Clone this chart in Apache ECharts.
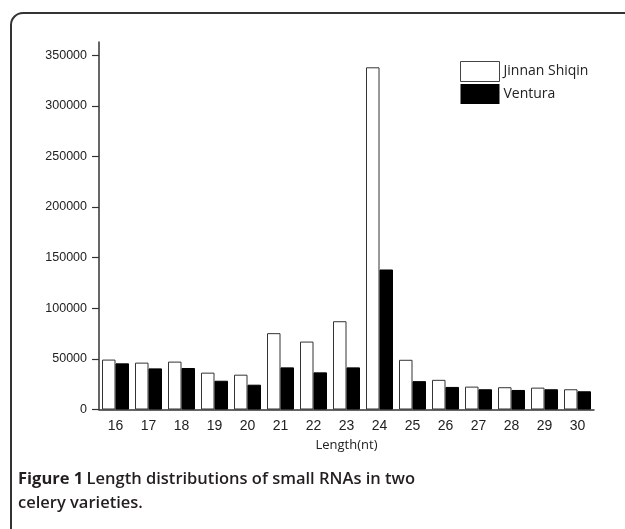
<!DOCTYPE html>
<html>
<head>
<meta charset="utf-8">
<script src="https://cdn.jsdelivr.net/npm/echarts@6/dist/echarts.min.js"></script>
<style>
html,body{margin:0;padding:0;background:#fff;}
#chart{width:625px;height:529px;}
</style>
</head>
<body>
<div id="chart"></div>
<script>
const lengths = ['16','17','18','19','20','21','22','23','24','25','26','27','28','29','30'];
const jinnanShiqin = [49300, 46300, 47300, 36400, 34400, 75400, 67100, 87200, 338000, 49100, 29300, 22600, 22000, 21600, 20000];
const ventura = [45600, 40600, 41000, 28400, 24500, 41600, 36700, 41600, 138300, 28000, 22300, 20000, 19300, 20000, 18000];
const yTicks = [0, 50000, 100000, 150000, 200000, 250000, 300000, 350000];
const seriesNames = ['Jinnan Shiqin', 'Ventura'];

const chart = echarts.init(document.getElementById('chart'), null, {renderer: 'canvas'});
const axisColor = '#333';
chart.setOption({
  animation: false,
  backgroundColor: '#fff',
  grid: {left: 99, right: 31, top: 42, bottom: 119.5, containLabel: false},
  legend: {
    orient: 'vertical', left: 455, top: 56,
    itemWidth: 39, itemHeight: 20, itemGap: 2,
    icon: 'rect',
    textStyle: {fontFamily: 'Open Sans', fontSize: 14, color: '#222', padding: [0,0,0,-1]},
    data: [
      {name: seriesNames[0], itemStyle: {color: '#fff', borderColor: '#444', borderWidth: 1}},
      {name: seriesNames[1], itemStyle: {color: '#000', borderColor: '#000', borderWidth: 0}}
    ]
  },
  xAxis: {
    type: 'category', data: lengths,
    name: 'Length(nt)', nameLocation: 'middle', nameGap: 29,
    nameTextStyle: {fontFamily: 'Open Sans', fontSize: 13, color: '#222'},
    axisLine: {lineStyle: {color: axisColor, width: 1.5}},
    axisTick: {alignWithLabel: true, length: 6, lineStyle: {color: axisColor, width: 1.2}},
    axisLabel: {fontFamily: 'Liberation Sans', fontSize: 14, color: '#222', margin: 10}
  },
  yAxis: {
    type: 'value', min: 0, max: 363000,
    axisLine: {show: true, lineStyle: {color: axisColor, width: 1.5}},
    axisTick: {show: true, length: 7, customValues: yTicks, lineStyle: {color: axisColor, width: 1.2}},
    axisLabel: {customValues: yTicks, formatter: function (v) { return String(v); },
      fontFamily: 'Liberation Sans', fontSize: 12.5, color: '#222', margin: 12},
    splitLine: {show: false}
  },
  series: [
    {name: seriesNames[0], type: 'bar', data: jinnanShiqin, barWidth: 13.5, barGap: '0%',
     itemStyle: {color: '#fff', borderColor: '#333', borderWidth: 1}},
    {name: seriesNames[1], type: 'bar', data: ventura, barWidth: 13.5, barGap: '0%',
     itemStyle: {color: '#000', borderColor: '#000', borderWidth: 1}}
  ],
  graphic: [
    {type: 'rect', silent: true, z: 100,
     shape: {x: 11, y: 13, width: 700, height: 600, r: 12},
     style: {fill: 'none', stroke: '#333', lineWidth: 2}},
    {type: 'text', left: 18, top: 471, z: 100,
     style: {
       text: '{b|Figure 1} {n|Length distributions of small RNAs in two}\n{n|celery varieties.}',
       rich: {
         b: {fontFamily: 'Open Sans', fontWeight: 700, fontSize: 16.5, fill: '#231f20', lineHeight: 24},
         n: {fontFamily: 'Open Sans', fontWeight: 600, fontSize: 16.5, fill: '#231f20', lineHeight: 24}
       }
     }}
  ]
});
</script>
</body>
</html>
